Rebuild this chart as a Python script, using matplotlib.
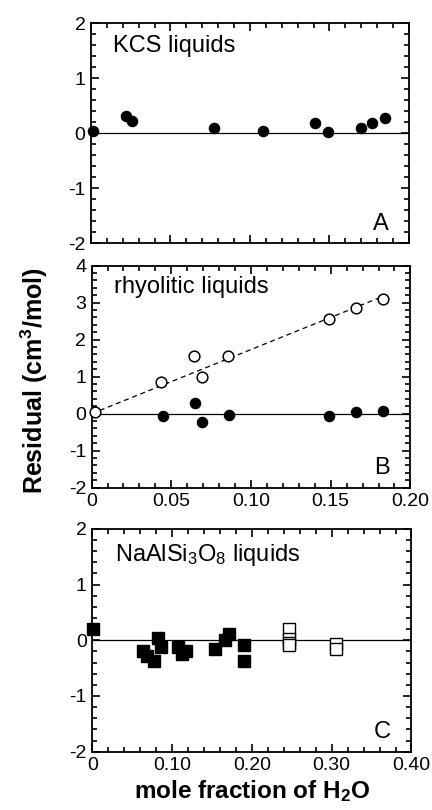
import matplotlib
matplotlib.use("Agg")
import matplotlib.pyplot as plt
from matplotlib.ticker import MultipleLocator, FixedFormatter, FixedLocator
import numpy as np

plt.rcParams['font.family'] = ['Liberation Sans', 'DejaVu Sans']
plt.rcParams['mathtext.default'] = 'regular'
plt.rcParams['axes.unicode_minus'] = False

# Panel A: KCS liquids
kcs_x = [0.001, 0.022, 0.026, 0.0776, 0.108, 0.141, 0.149, 0.170, 0.177, 0.185]
kcs_y = [0.05, 0.32, 0.22, 0.10, 0.05, 0.19, 0.02, 0.10, 0.18, 0.27]

# Panel B: rhyolitic liquids
rhy_open_x = [0.002, 0.0435, 0.064, 0.0694, 0.0857, 0.149, 0.166, 0.183]
rhy_open_y = [0.05, 0.85, 1.55, 1.0, 1.55, 2.55, 2.85, 3.1]
rhy_fill_x = [0.045, 0.0648, 0.0695, 0.0863, 0.149, 0.166, 0.183]
rhy_fill_y = [-0.05, 0.3, -0.22, -0.03, -0.07, 0.05, 0.08]

# Panel C: NaAlSi3O8 liquids
ab_fill_x = [0.001, 0.063, 0.068, 0.078, 0.082, 0.086, 0.108, 0.112, 0.118,
             0.154, 0.166, 0.171, 0.190, 0.190]
ab_fill_y = [0.20, -0.20, -0.28, -0.38, 0.05, -0.12, -0.12, -0.25, -0.20,
             -0.15, 0.0, 0.12, -0.08, -0.38]
ab_open_x = [0.2465, 0.2465, 0.2465, 0.2465, 0.306, 0.306]
ab_open_y = [0.20, 0.03, -0.04, -0.08, -0.07, -0.15]

fig = plt.figure(figsize=(4.32, 8.1), dpi=100)
axA = fig.add_axes([0.2106, 0.6996, 0.736, 0.2716])
axB = fig.add_axes([0.2120, 0.3979, 0.738, 0.2741])
axC = fig.add_axes([0.2135, 0.0720, 0.739, 0.2750])


def style(ax, xmax, xmajor, xminor, ymin, ymax, xlabels):
    ax.set_xlim(0, xmax)
    ax.set_ylim(ymin, ymax)
    ax.xaxis.set_major_locator(MultipleLocator(xmajor))
    ax.xaxis.set_minor_locator(MultipleLocator(xminor))
    ax.yaxis.set_major_locator(MultipleLocator(1))
    ax.yaxis.set_minor_locator(MultipleLocator(0.2))
    ax.tick_params(which='both', direction='in', top=True, right=True,
                   labelsize=14, width=1.2)
    ax.tick_params(which='major', length=6, pad=4)
    ax.tick_params(which='minor', length=3.5)
    if xlabels is None:
        ax.set_xticklabels([])
    else:
        ax.xaxis.set_major_locator(FixedLocator(np.linspace(0, xmax, len(xlabels))))
        ax.xaxis.set_major_formatter(FixedFormatter(xlabels))
    for s in ax.spines.values():
        s.set_linewidth(1.3)
    ax.axhline(0, color='black', lw=0.9, zorder=1)


style(axA, 0.20, 0.05, 0.01, -2, 2, None)
style(axB, 0.20, 0.05, 0.01, -2, 4, ['0', '0.05', '0.10', '0.15', '0.20'])
style(axC, 0.40, 0.10, 0.02, -2, 2, ['0', '0.10', '0.20', '0.30', '0.40'])

axA.plot(kcs_x, kcs_y, 'o', color='black', ms=7.3, clip_on=False, zorder=3)

# dashed fit line through the origin for the open circles
ox = np.array(rhy_open_x)
oy = np.array(rhy_open_y)
slope = np.sum(ox * oy) / np.sum(ox * ox)
lx = np.array([0, ox.max()])
axB.plot(lx, slope * lx, '--', color='black', lw=0.9, dashes=(4, 3), zorder=2)
axB.plot(rhy_open_x, rhy_open_y, 'o', mfc='white', mec='black', mew=1.1,
         ms=7.7, clip_on=False, zorder=3)
axB.plot(rhy_fill_x, rhy_fill_y, 'o', color='black', ms=7.3, zorder=3)

axC.plot(ab_fill_x, ab_fill_y, 's', color='black', ms=8.3, clip_on=False, zorder=3)
axC.plot(ab_open_x, ab_open_y, 's', mfc='white', mec='black', mew=1.0,
         ms=8.3, zorder=3)

axA.text(0.07, 0.87, 'KCS liquids', transform=axA.transAxes, fontsize=17)
axB.text(0.07, 0.875, 'rhyolitic liquids', transform=axB.transAxes, fontsize=17)
axC.text(0.07, 0.855, 'NaAlSi$_3$O$_8$ liquids', transform=axC.transAxes, fontsize=17)

axA.text(0.935, 0.06, 'A', transform=axA.transAxes, fontsize=17, ha='right')
axB.text(0.935, 0.06, 'B', transform=axB.transAxes, fontsize=17, ha='right')
axC.text(0.935, 0.06, 'C', transform=axC.transAxes, fontsize=17, ha='right')

fig.text(0.080, 0.530, 'Residual (cm$^3$/mol)', rotation=90, ha='center',
         va='center', fontsize=18, fontweight='bold')
fig.text(0.583, 0.023, 'mole fraction of H$_2$O', ha='center', va='center',
         fontsize=17.5, fontweight='bold')

fig.savefig('out.png', dpi=100)
